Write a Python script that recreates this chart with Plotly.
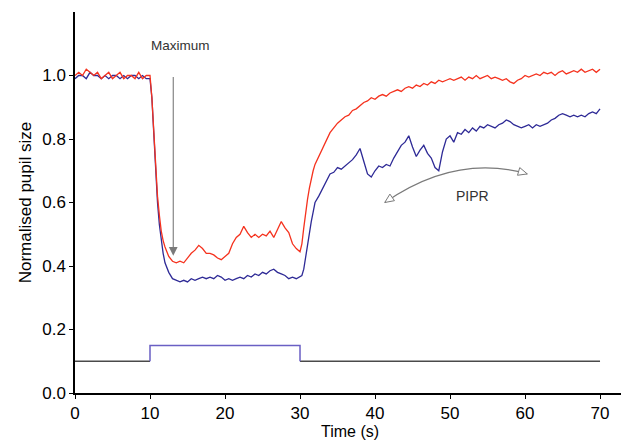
import plotly.graph_objects as go
import math

# ---------------- data ----------------
time_s = (
    [0, 0.5, 1, 1.5, 2, 2.5, 3, 3.5, 4, 4.5, 5, 5.5, 6, 6.5, 7, 7.5, 8, 8.5, 9, 9.5, 10]
    + [10.25, 10.5, 10.75, 11, 11.25, 11.5, 11.75, 12]
    + [12.5, 13, 13.5, 14, 14.5, 15, 15.5, 16, 16.5, 17, 17.5, 18, 18.5, 19, 19.5, 20,
       20.5, 21, 21.5, 22, 22.5, 23, 23.5, 24, 24.5, 25, 25.5, 26, 26.5, 27, 27.5, 28,
       28.5, 29, 29.5, 30]
    + [30.25, 30.5, 30.75, 31, 31.25, 31.5, 31.75, 32]
    + [32.5, 33, 33.5, 34, 34.5, 35, 35.5, 36, 36.5, 37, 37.5, 38, 38.5, 39, 39.5,
       40, 40.5, 41, 41.5, 42, 42.5, 43, 43.5, 44, 44.5, 45, 45.5, 46, 46.5, 47, 47.5,
       48, 48.5, 49, 49.5, 50, 50.5, 51, 51.5, 52, 52.5, 53, 53.5, 54, 54.5, 55, 55.5,
       56, 56.5, 57, 57.5, 58, 58.5, 59, 59.5, 60, 60.5, 61, 61.5, 62, 62.5, 63, 63.5,
       64, 64.5, 65, 65.5, 66, 66.5, 67, 67.5, 68, 68.5, 69, 69.5, 70]
)

red_pupil = (
    [1.00, 1.01, 1.00, 1.02, 1.01, 1.00, 1.01, 0.99, 1.00, 1.01, 0.99, 1.00, 1.01, 0.99,
     1.00, 1.00, 0.99, 1.01, 0.99, 1.00, 1.00]
    + [0.93, 0.82, 0.71, 0.62, 0.56, 0.51, 0.48, 0.46]
    + [0.43, 0.415, 0.41, 0.415, 0.41, 0.425, 0.44, 0.45, 0.465, 0.455, 0.44, 0.44,
       0.435, 0.425, 0.42, 0.43, 0.44, 0.47, 0.49, 0.50, 0.525, 0.505, 0.49, 0.50,
       0.49, 0.50, 0.495, 0.51, 0.49, 0.515, 0.54, 0.52, 0.505, 0.47, 0.455, 0.445]
    + [0.47, 0.52, 0.57, 0.61, 0.645, 0.675, 0.70, 0.72]
    + [0.745, 0.77, 0.795, 0.82, 0.835, 0.85, 0.86, 0.87, 0.875, 0.89, 0.895, 0.905,
       0.915, 0.92, 0.93,
       0.925, 0.935, 0.94, 0.935, 0.945, 0.95, 0.955, 0.95, 0.96, 0.965, 0.96, 0.97,
       0.965, 0.975, 0.97, 0.98, 0.975, 0.985, 0.98, 0.985,
       0.99, 0.985, 0.99, 0.995, 0.985, 0.995, 0.99, 1.0, 0.99, 0.995, 1.0, 0.99,
       0.995, 0.99, 0.985, 0.99, 0.98, 0.975, 0.985, 0.99,
       1.0, 0.995, 1.0, 1.005, 1.0, 1.01, 1.005, 1.01, 1.0, 1.01, 1.015, 1.005, 1.01,
       1.015, 1.01, 1.02, 1.01, 1.015, 1.02, 1.01, 1.02]
)

blue_pupil = (
    [0.99, 1.00, 1.00, 0.99, 1.01, 1.00, 1.00, 0.99, 1.00, 0.99, 1.00, 1.00, 0.99, 1.00,
     0.99, 1.00, 1.00, 0.99, 1.00, 0.99, 0.99]
    + [0.93, 0.82, 0.70, 0.60, 0.53, 0.48, 0.44, 0.41]
    + [0.38, 0.36, 0.355, 0.35, 0.355, 0.35, 0.36, 0.355, 0.36, 0.365, 0.36, 0.365,
       0.36, 0.37, 0.365, 0.355, 0.36, 0.355, 0.36, 0.365, 0.36, 0.37, 0.365, 0.375,
       0.37, 0.38, 0.375, 0.385, 0.39, 0.38, 0.375, 0.37, 0.36, 0.365, 0.36, 0.365]
    + [0.37, 0.39, 0.43, 0.47, 0.51, 0.54, 0.57, 0.60]
    + [0.62, 0.645, 0.665, 0.69, 0.695, 0.71, 0.705, 0.715, 0.725, 0.735, 0.75, 0.77,
       0.73, 0.69, 0.68,
       0.70, 0.715, 0.71, 0.72, 0.715, 0.74, 0.76, 0.78, 0.79, 0.81, 0.775, 0.745,
       0.765, 0.78, 0.755, 0.74, 0.71, 0.70, 0.76, 0.80,
       0.81, 0.79, 0.82, 0.815, 0.83, 0.82, 0.835, 0.825, 0.84, 0.835, 0.845, 0.84,
       0.835, 0.845, 0.85, 0.86, 0.855, 0.845, 0.84, 0.835,
       0.84, 0.845, 0.835, 0.845, 0.84, 0.845, 0.85, 0.86, 0.865, 0.875, 0.88, 0.875,
       0.87, 0.875, 0.87, 0.875, 0.87, 0.88, 0.885, 0.88, 0.895]
)

assert len(time_s) == len(red_pupil) == len(blue_pupil)

# light stimulus trace
stim_start, stim_onset, stim_offset, stim_end = 0, 10, 30, 70
stim_baseline, stim_pulse = 0.10, 0.15

x_tick_vals = [0, 10, 20, 30, 40, 50, 60, 70]
y_tick_vals = [0.0, 0.2, 0.4, 0.6, 0.8, 1.0]

# annotations
max_label, max_label_pos = "Maximum", (14.0, 1.095)
max_arrow_x, max_arrow_top, max_arrow_tip = 13.1, 1.0, 0.432
pipr_label, pipr_label_pos = "PIPR", (53.0, 0.622)
pipr_start, pipr_ctrl, pipr_end = (41.3, 0.600), (50.8, 0.755), (60.3, 0.690)

# ---------------- layout geometry ----------------
# the page body keeps its default 8px margin, so the figure is sized to fit inside it
W, H = 621, 437
ML, MR, MT, MB = 67, 4, 4, 52
X_RANGE = [0, 73.33]
Y_RANGE = [0, 1.2]
sx = (W - ML - MR) / (X_RANGE[1] - X_RANGE[0])
sy = (H - MT - MB) / (Y_RANGE[1] - Y_RANGE[0])

RED = "#f5321e"
BLUE = "#2e2a96"
STIM_BASE = "#4a4a4a"
STIM_PULSE = "#6a5fc4"
GRAY = "#7a7a7a"
FONT = "Liberation Sans, Arial, sans-serif"

fig = go.Figure()

fig.add_trace(go.Scatter(x=time_s, y=blue_pupil, mode="lines",
                         line=dict(color=BLUE, width=1.3), hoverinfo="skip"))
fig.add_trace(go.Scatter(x=time_s, y=red_pupil, mode="lines",
                         line=dict(color=RED, width=1.3), hoverinfo="skip"))

# stimulus baseline (gray) and pulse (purple)
fig.add_trace(go.Scatter(
    x=[stim_start, stim_onset, None, stim_offset, stim_end],
    y=[stim_baseline, stim_baseline, None, stim_baseline, stim_baseline],
    mode="lines", line=dict(color=STIM_BASE, width=1.5), hoverinfo="skip"))
fig.add_trace(go.Scatter(
    x=[stim_onset, stim_onset, stim_offset, stim_offset],
    y=[stim_baseline, stim_pulse, stim_pulse, stim_baseline],
    mode="lines", line=dict(color=STIM_PULSE, width=1.5), hoverinfo="skip"))

# "Maximum" arrow
fig.add_annotation(x=max_arrow_x, y=max_arrow_tip, ax=max_arrow_x, ay=max_arrow_top,
                   xref="x", yref="y", axref="x", ayref="y", text="",
                   showarrow=True, arrowhead=2, arrowsize=1.6, arrowwidth=1.1,
                   arrowcolor=GRAY)
fig.add_annotation(x=max_label_pos[0], y=max_label_pos[1], text=max_label,
                   showarrow=False, font=dict(family=FONT, size=13.5, color="#333333"))

# PIPR curved double arrow
shapes = [dict(type="path", xref="x", yref="y",
               path=f"M {pipr_start[0]},{pipr_start[1]} Q {pipr_ctrl[0]},{pipr_ctrl[1]} "
                    f"{pipr_end[0]},{pipr_end[1]}",
               line=dict(color=GRAY, width=1.2))]


def open_head(tip, frm, length=9.0, half=4.0):
    dx = (tip[0] - frm[0]) * sx
    dy = (tip[1] - frm[1]) * sy
    n = math.hypot(dx, dy)
    ux, uy = dx / n, dy / n
    px, py = -uy, ux
    bx, by = -ux * length, -uy * length
    c1 = (tip[0] + (bx + px * half) / sx, tip[1] + (by + py * half) / sy)
    c2 = (tip[0] + (bx - px * half) / sx, tip[1] + (by - py * half) / sy)
    return dict(type="path", xref="x", yref="y",
                path=f"M {tip[0]},{tip[1]} L {c1[0]},{c1[1]} L {c2[0]},{c2[1]} Z",
                fillcolor="white", line=dict(color=GRAY, width=1))


shapes.append(open_head(pipr_start, pipr_ctrl))
shapes.append(open_head(pipr_end, pipr_ctrl))
fig.update_layout(shapes=shapes)

fig.add_annotation(x=pipr_label_pos[0], y=pipr_label_pos[1], text=pipr_label,
                   showarrow=False, font=dict(family=FONT, size=14, color="#333333"))

axis_common = dict(showline=True, linecolor="black", linewidth=1.5, ticks="outside",
                   ticklen=4, tickwidth=1, tickcolor="black", showgrid=False,
                   zeroline=False, mirror=False, automargin=False,
                   tickfont=dict(family=FONT, size=17, color="black"))

fig.update_xaxes(range=X_RANGE, tickvals=x_tick_vals,
                 title=dict(text="Time (s)", font=dict(family=FONT, size=16, color="black"),
                            standoff=4),
                 **axis_common)
fig.update_yaxes(range=Y_RANGE, tickvals=y_tick_vals, tickformat=".1f",
                 title=dict(text="Normalised pupil size",
                            font=dict(family=FONT, size=17, color="black"), standoff=6),
                 **axis_common)

fig.update_layout(width=W, height=H, margin=dict(l=ML, r=MR, t=MT, b=MB),
                  paper_bgcolor="white", plot_bgcolor="white", showlegend=False)

fig.write_html("out.html")
